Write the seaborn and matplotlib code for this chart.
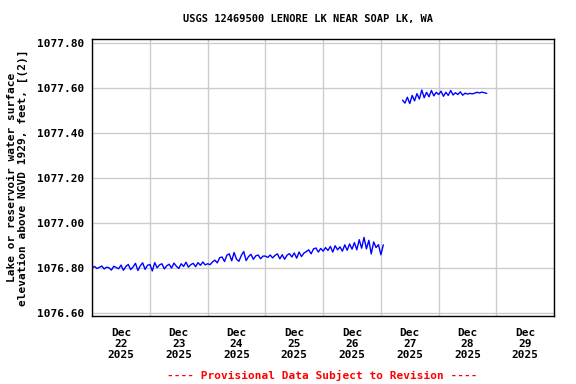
import numpy as np
import pandas as pd
import matplotlib
matplotlib.use("Agg")
import matplotlib.pyplot as plt
import matplotlib.dates as mdates
import seaborn as sns

# hourly lake elevation readings (ft)
start_a = "2025-12-22 00:00"
elev_a = [
    # Dec 22
    1076.800, 1076.806, 1076.797, 1076.802, 1076.808, 1076.795, 1076.803, 1076.800,
    1076.790, 1076.807, 1076.801, 1076.796, 1076.812, 1076.789, 1076.806, 1076.815,
    1076.792, 1076.804, 1076.820, 1076.788, 1076.809, 1076.822, 1076.793, 1076.811,
    # Dec 23
    1076.815, 1076.786, 1076.823, 1076.800, 1076.813, 1076.818, 1076.795, 1076.809,
    1076.816, 1076.799, 1076.821, 1076.807, 1076.797, 1076.818, 1076.806, 1076.825,
    1076.803, 1076.814, 1076.820, 1076.805, 1076.823, 1076.811, 1076.826, 1076.813,
    # Dec 24
    1076.818, 1076.814, 1076.826, 1076.834, 1076.822, 1076.845, 1076.848, 1076.828,
    1076.856, 1076.862, 1076.831, 1076.868, 1076.838, 1076.829, 1076.855, 1076.872,
    1076.832, 1076.850, 1076.860, 1076.838, 1076.853, 1076.857, 1076.840, 1076.852,
    # Dec 25
    1076.852, 1076.846, 1076.857, 1076.844, 1076.855, 1076.862, 1076.840, 1076.858,
    1076.838, 1076.856, 1076.863, 1076.848, 1076.866, 1076.843, 1076.870, 1076.850,
    1076.865, 1076.872, 1076.880, 1076.862, 1076.884, 1076.888, 1076.870, 1076.886,
    # Dec 26
    1076.874, 1076.890, 1076.877, 1076.895, 1076.870, 1076.898, 1076.880, 1076.893,
    1076.874, 1076.902, 1076.878, 1076.906, 1076.883, 1076.912, 1076.880, 1076.925,
    1076.887, 1076.935, 1076.884, 1076.922, 1076.862, 1076.915, 1076.890, 1076.903,
    # Dec 27
    1076.858, 1076.902,
]

start_b = "2025-12-27 09:00"
elev_b = [
    # Dec 27
    1077.545, 1077.532, 1077.558, 1077.530, 1077.566, 1077.542, 1077.574, 1077.550,
    1077.590, 1077.556, 1077.580, 1077.560, 1077.588, 1077.564, 1077.580,
    # Dec 28
    1077.570, 1077.585, 1077.562, 1077.580, 1077.566, 1077.588, 1077.568, 1077.578,
    1077.570, 1077.582, 1077.567, 1077.576, 1077.572, 1077.575, 1077.573, 1077.576,
    1077.580, 1077.577, 1077.581, 1077.578, 1077.575,
]

y_ticks = [1076.60, 1076.80, 1077.00, 1077.20, 1077.40, 1077.60, 1077.80]

df = pd.concat([
    pd.DataFrame({"time": pd.date_range(start_a, periods=len(elev_a), freq="h"),
                  "elev": elev_a, "seg": 0}),
    pd.DataFrame({"time": pd.date_range(start_b, periods=len(elev_b), freq="h"),
                  "elev": elev_b, "seg": 1}),
])

sns.set_style("white")
plt.rcParams["font.family"] = ["DejaVu Sans Mono"]
plt.rcParams["font.weight"] = "bold"
plt.rcParams["text.color"] = "black"
plt.rcParams["xtick.color"] = "black"
plt.rcParams["ytick.color"] = "black"
plt.rcParams["axes.labelcolor"] = "black"

fig = plt.figure(figsize=(5.76, 3.84), dpi=100)
ax = fig.add_axes([0.160, 0.176, 0.802, 0.722])

sns.lineplot(data=df, x="time", y="elev", units="seg", estimator=None,
             color="#0000ff", lw=1, ax=ax)

ax.set_xlim(pd.Timestamp("2025-12-22"), pd.Timestamp("2025-12-30"))
ax.set_ylim(1076.584, 1077.816)
ax.set_yticks(y_ticks)
ax.set_yticklabels([f"{v:.2f}" for v in y_ticks], fontsize=8, fontweight="bold")

ax.xaxis.set_major_locator(mdates.HourLocator(byhour=12))
ax.xaxis.set_major_formatter(mdates.DateFormatter("%b\n%d\n%Y"))
ax.xaxis.set_minor_locator(mdates.DayLocator())
for lab in ax.get_xticklabels():
    lab.set_fontsize(8)
    lab.set_fontweight("bold")
    lab.set_linespacing(1.15)
ax.tick_params(axis="x", which="major", length=0, pad=8)
ax.tick_params(axis="x", which="minor", length=0)
ax.tick_params(axis="y", length=0, pad=6)

ax.grid(False)
ax.grid(True, axis="x", which="minor", color="#cccccc", lw=1)
ax.grid(True, axis="y", which="major", color="#cccccc", lw=1)
for s in ax.spines.values():
    s.set_color("black")
    s.set_linewidth(1)

ax.set_xlabel("")
ax.set_ylabel("Lake or reservoir water surface\nelevation above NGVD 1929, feet, [(2)]",
              fontsize=8, fontweight="bold", labelpad=6, linespacing=1.1)

fig.text(0.535, 0.950, "USGS 12469500 LENORE LK NEAR SOAP LK, WA",
         ha="center", va="center", fontsize=7.5, fontweight="bold")
fig.text(0.560, 0.023, "---- Provisional Data Subject to Revision ----",
         ha="center", va="center", fontsize=8, fontweight="bold", color="red")

fig.savefig("out.png", dpi=100)
